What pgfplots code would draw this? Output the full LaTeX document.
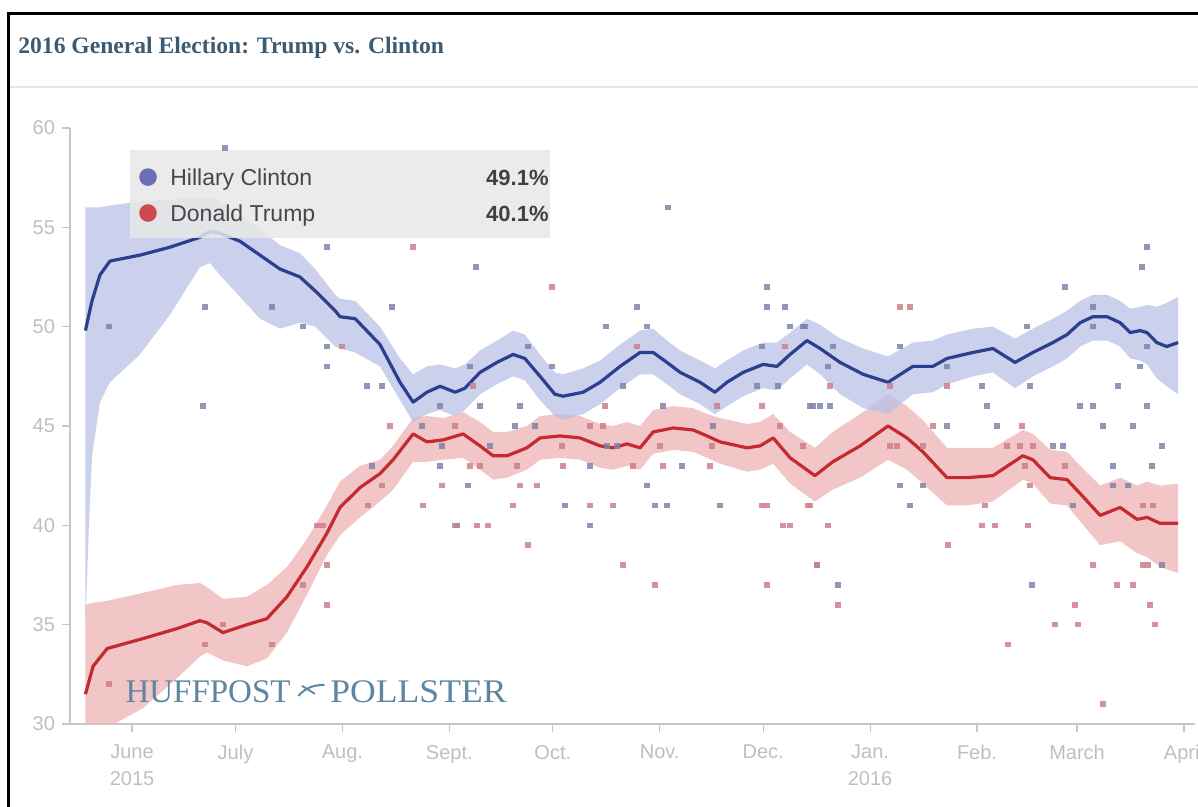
\documentclass[border=0pt]{standalone}
\usepackage{fontspec}
\setmainfont{Liberation Sans}
\newfontfamily\ttlfont{Liberation Serif}
\usepackage{pgfplots}
\usepackage{pgfplotstable}
\usepgfplotslibrary{fillbetween}
\pgfplotsset{compat=1.18}

\definecolor{cline}{HTML}{2C3E8F}
\definecolor{tline}{HTML}{C42A30}
\definecolor{cband}{HTML}{B9C0E6}
\definecolor{tband}{HTML}{EDB3B3}
\definecolor{cdot}{HTML}{7D84A8}
\definecolor{tdot}{HTML}{CC7F8A}
\definecolor{ttl}{HTML}{3B5B73}
\definecolor{wmark}{HTML}{5E86A0}

% x = days since 1 June 2015
% d = day, m = trend, lo/hi = band
\pgfplotstableread{
d m lo hi
-13.5 49.8 35.0 56.0
-12.5 50.6 40.0 56.0
-11.6 51.3 43.5 56.0
-9.3 52.6 46.2 56.0
-6.4 53.3 47.2 56.1
2.3 53.6 48.6 56.3
11 54.0 50.6 56.4
19.7 54.5 53.0 56.5
22.6 54.8 53.2 56.5
25.5 54.7 52.6 56.3
31.3 54.3 51.5 55.6
37.1 53.6 50.4 54.9
42.9 52.9 49.9 54.1
48.7 52.5 50.2 53.7
53.1 51.8 50.0 52.9
58.9 50.8 49.0 51.6
60.3 50.5 48.9 51.4
64.7 50.4 48.7 51.3
71.9 49.1 48.0 50.0
77.7 47.2 46.3 48.4
81.5 46.2 45.2 47.6
85.5 46.7 45.6 48.0
89.3 47.0 45.8 48.1
93.7 46.7 45.5 47.9
96.5 46.9 45.8 48.1
100.9 47.7 46.6 48.8
105.8 48.2 47.1 49.3
110.5 48.6 47.5 49.8
113.9 48.4 47.3 49.6
118.3 47.5 46.3 48.6
122.6 46.6 45.5 47.7
125 46.5 45.3 47.6
130.8 46.7 45.6 47.9
135.7 47.2 46.1 48.3
141.5 48.0 46.9 49.1
147.3 48.7 47.6 49.8
151.1 48.7 47.6 49.9
155.1 48.2 47.1 49.3
158.9 47.7 46.6 48.8
164.7 47.2 46.1 48.3
169 46.7 45.6 47.9
172.5 47.2 46.0 48.3
177.2 47.7 46.5 48.8
183 48.1 46.9 49.2
187 48.0 46.8 49.2
190.8 48.6 47.4 49.7
195.7 49.3 48.1 50.4
199.5 48.9 47.6 50.1
205.3 48.2 46.6 49.4
212 47.6 45.9 48.9
219.2 47.2 45.6 48.5
226.4 48.0 46.6 49.2
232.2 48.0 46.7 49.3
236.3 48.4 47.1 49.6
243.8 48.7 47.5 49.9
249.6 48.9 47.7 50.0
256 48.2 46.9 49.4
261.2 48.7 47.5 49.9
267 49.2 48.0 50.4
271.1 49.6 48.4 50.8
274.9 50.2 49.0 51.3
278.6 50.5 49.3 51.6
282.7 50.5 49.3 51.6
286.5 50.2 49.0 51.3
289.4 49.7 48.4 50.9
292.3 49.8 48.3 51.0
294.3 49.7 48.1 51.1
297.1 49.2 47.4 51.0
300 49.0 47.0 51.2
303.3 49.2 46.6 51.5
}\clinton

\pgfplotstableread{
d m lo hi
-13.5 31.5 29.0 36.0
-11.3 32.9 29.3 36.1
-7.2 33.8 29.8 36.2
3.2 34.3 30.8 36.6
13 34.8 32.3 37.0
19.7 35.2 33.4 37.1
21.7 35.1 33.6 36.9
26.4 34.6 33.2 36.3
33.3 35.0 32.9 36.4
39.1 35.3 33.3 37.0
44.9 36.4 34.6 37.9
50.7 37.9 36.5 39.3
56.5 39.6 38.5 41.0
60.3 40.9 39.5 42.2
66.1 41.9 40.4 43.0
71.9 42.6 41.2 43.3
75.7 43.3 41.8 44.0
81.5 44.6 43.2 45.4
85.5 44.2 43.2 45.5
90.2 44.3 43.3 45.4
96 44.6 43.4 45.7
100.9 44.0 42.8 45.2
104.7 43.5 42.3 44.7
108.7 43.5 42.4 44.7
114.5 43.9 42.8 45.0
118.3 44.4 43.3 45.5
124.1 44.5 43.4 45.6
129.9 44.4 43.3 45.5
135.7 44.0 42.9 45.1
139.5 43.9 42.8 45.0
143.5 44.1 43.0 45.2
147.3 43.9 42.8 45.0
151.1 44.7 43.6 45.8
156.9 44.9 43.8 46.0
162.7 44.8 43.7 45.9
166.7 44.5 43.4 45.6
170.5 44.2 43.1 45.4
178.3 43.9 42.7 45.1
182.1 44.0 42.8 45.2
185.9 44.4 43.1 45.6
190.8 43.4 42.1 44.7
198 42.5 41.2 43.9
203.2 43.2 41.8 44.7
211.1 44.0 42.4 45.6
219.2 45.0 43.3 46.6
224.7 44.4 42.8 46.0
229.3 43.7 42.1 45.3
236.3 42.4 41.0 43.9
242.1 42.4 41.0 43.9
249.6 42.5 41.2 43.9
258.3 43.5 42.3 44.8
261.2 43.3 42.1 44.6
266.2 42.4 41.1 43.8
271.1 42.3 41.0 43.7
274.9 41.6 40.2 43.0
280.7 40.5 39.0 42.0
286.5 40.9 39.2 42.4
291.4 40.3 38.6 42.0
294.3 40.4 38.4 42.2
298.1 40.1 37.9 42.0
303.3 40.1 37.6 42.1
}\trump

% individual polls
\pgfplotstableread{
d v
-6.7 50
27.0 59
21.2 51
40.6 51
49.6 50
56.5 54
56.5 49
56.5 48
68.1 47
72.5 47
75.4 51
20.6 46
89.3 46
84.1 45
69.6 43
89.3 43
89.9 44
99.7 53
146.4 51
184.1 52
184.1 51
189.3 51
137.4 50
149.3 50
190.8 50
194.5 50
114.8 49
182.7 49
98.0 48
121.8 48
142.4 47
181.2 47
187.3 47
100.9 46
112.5 46
154.0 46
197.4 46
111.0 45
116.8 45
168.5 45
103.8 44
137.7 44
140.6 44
132.8 43
159.5 43
97.4 42
149.3 42
125.5 41
151.6 41
155.1 41
170.5 41
94.2 40
132.8 40
155.4 56
294.3 54
292.8 53
270.5 52
278.6 51
195.1 50
259.5 50
278.6 50
222.7 49
203.2 49
294.3 49
201.8 48
236.3 48
292.3 48
246.4 47
260.4 47
285.9 47
196.6 46
199.5 46
202.4 46
247.9 46
274.9 46
278.6 46
294.3 46
236.3 45
250.8 45
281.5 45
290.2 45
267.0 44
269.9 44
298.6 44
284.4 43
295.7 43
222.7 42
229.3 42
284.4 42
288.8 42
225.6 41
272.8 41
198.6 38
298.6 38
204.7 37
260.9 37
}\cpolls

\pgfplotstableread{
d v
-6.7 32
21.2 34
40.6 34
26.4 35
53.6 40
55.4 40
56.5 38
49.6 37
56.5 36
68.4 41
72.5 42
89.9 42
84.4 41
93.7 40
81.5 54
60.9 49
74.8 45
121.8 52
146.4 49
189.3 49
98.9 47
137.1 46
169.6 46
182.7 46
93.7 45
132.8 45
136.6 45
187.9 45
124.7 44
153.1 44
168.2 44
194.5 44
98.0 43
100.9 43
111.6 43
125.0 43
145.3 43
154.0 43
167.6 43
112.5 42
117.4 42
110.5 41
132.8 41
139.5 41
182.7 41
184.1 41
196.0 41
100.0 40
103.2 40
188.8 40
190.8 40
114.8 39
142.4 38
198.6 38
151.6 37
184.1 37
222.7 51
225.6 51
202.4 47
219.8 47
236.3 47
232.2 45
258.0 45
219.8 44
221.8 44
229.3 44
253.7 44
257.5 44
261.2 44
258.9 43
270.5 43
260.4 42
196.6 41
247.3 41
293.1 41
296.0 41
201.8 40
246.4 40
250.2 40
259.8 40
236.6 39
278.6 38
293.1 38
294.6 38
285.6 37
290.2 37
204.7 36
254.0 34
267.6 35
274.3 35
273.4 36
281.5 31
295.2 36
296.6 35
}\tpolls

\begin{document}
\begin{tikzpicture}
\begin{axis}[
  scale only axis, width=562.5pt, height=298pt,
  xmin=-17.98, xmax=308.2, ymin=30, ymax=60,
  axis x line*=bottom, axis y line*=left,
  axis line style={-, draw=black!22, line width=0.7pt},
  tick style={draw=black!22, line width=0.6pt},
  tick align=outside, major tick length=4pt,
  xtick={0,30,61,92,122,153,183,214,245,274,305},
  xticklabels={June\\2015,July,Aug.,Sept.,Oct.,Nov.,Dec.,Jan.\\2016,Feb.,March,April},
  ytick={30,35,...,60},
  ticklabel style={font=\fontsize{10}{13.5}\selectfont, text=black!25},
  xticklabel style={align=center, yshift=-3pt},
  /pgf/number format/assume math mode=true,
]
% bands
\addplot[name path=tu, draw=none, forget plot] table[x=d, y=hi] {\trump};
\addplot[name path=tl, draw=none, forget plot] table[x=d, y=lo] {\trump};
\addplot[fill=tband, fill opacity=0.75, draw=none] fill between[of=tu and tl];
\addplot[name path=cu, draw=none, forget plot] table[x=d, y=hi] {\clinton};
\addplot[name path=cl, draw=none, forget plot] table[x=d, y=lo] {\clinton};
\addplot[fill=cband, fill opacity=0.75, draw=none] fill between[of=cu and cl];
% polls
\addplot[only marks, mark=square*, mark size=1.4pt, color=cdot, mark options={draw opacity=0, fill opacity=0.85}] table[x=d, y=v] {\cpolls};
\addplot[only marks, mark=square*, mark size=1.4pt, color=tdot, mark options={draw opacity=0, fill opacity=0.85}] table[x=d, y=v] {\tpolls};
% trend lines
\addplot[tline, line width=1.6pt, line join=round, no marks] table[x=d, y=m] {\trump};
\addplot[cline, line width=1.6pt, line join=round, no marks] table[x=d, y=m] {\clinton};

% legend box
\fill[black!9, fill opacity=0.85] (axis cs:-0.6,54.46) rectangle (axis cs:121.2,58.9);
\fill[cdot!85!blue] (axis cs:4.64,57.53) circle[radius=4.4pt];
\fill[tline!85!white] (axis cs:4.64,55.72) circle[radius=4.4pt];
\node[anchor=base west, font=\fontsize{11.5}{13}\selectfont, text=black!72, inner sep=0pt] at (axis cs:11,57.08) {Hillary Clinton};
\node[anchor=base west, font=\fontsize{11.5}{13}\selectfont, text=black!72, inner sep=0pt] at (axis cs:11,55.27) {Donald Trump};
\node[anchor=base east, font=\fontsize{11}{13}\selectfont\bfseries, text=black!75, inner sep=0pt] at (axis cs:120.9,57.08) {49.1\%};
\node[anchor=base east, font=\fontsize{11}{13}\selectfont\bfseries, text=black!75, inner sep=0pt] at (axis cs:120.9,55.27) {40.1\%};

% watermark
\node[anchor=base west, font=\ttlfont\fontsize{16.5}{19}\selectfont, text=wmark, inner sep=0pt] at (axis cs:-2,31.06) {HUFFPOST};
\node[anchor=base west, font=\ttlfont\fontsize{16.5}{19}\selectfont, text=wmark, inner sep=0pt] at (axis cs:57.4,31.06) {\scalebox{1.08}[1]{POLLSTER}};
\draw[wmark, line width=1pt] (axis cs:48.2,31.41) .. controls (axis cs:50.8,31.9) and (axis cs:53,31.95) .. (axis cs:55.8,31.97);
\draw[wmark, line width=0.9pt] (axis cs:49.3,31.92) -- (axis cs:53.0,31.52);
\end{axis}
% frame, title
\draw[black, line width=1.2pt] (-30.75pt,-41.5pt) -- (-30.75pt,355.25pt) -- (564pt,355.25pt);
\draw[black!10, line width=0.8pt] (-30pt,318.5pt) -- (564pt,318.5pt);
\node[anchor=base west, inner sep=0pt, font=\ttlfont\bfseries\fontsize{11.8}{13}\selectfont, text=ttl] at (-26pt,335pt) {2016 General Election: Trump vs. Clinton};
\pgfresetboundingbox
\path[use as bounding box] (-35pt,-41.5pt) rectangle (564pt,362pt);
\end{tikzpicture}
\end{document}
